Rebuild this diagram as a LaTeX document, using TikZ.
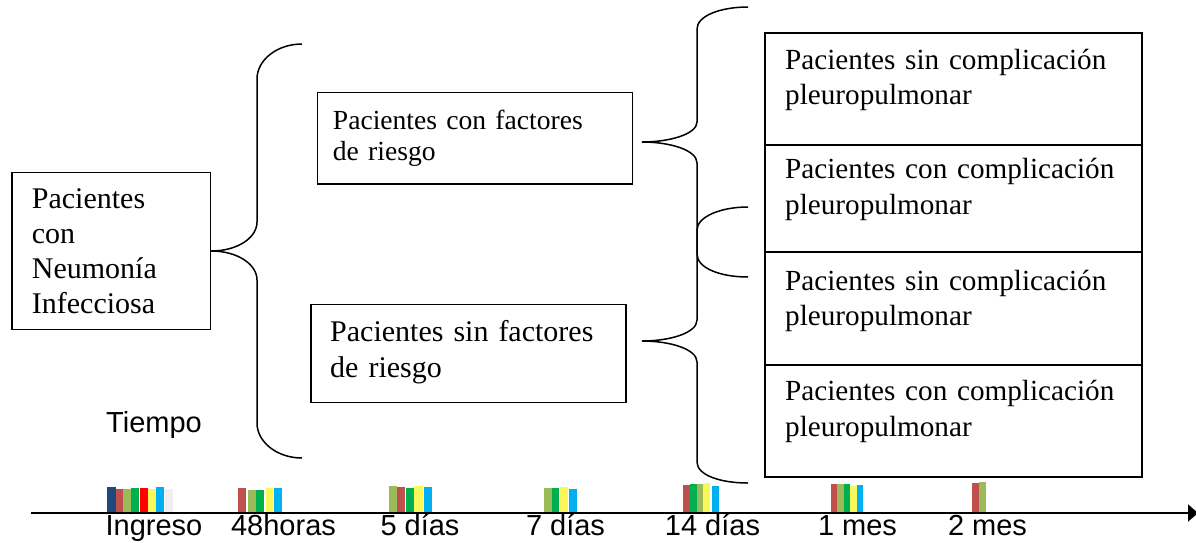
\documentclass[tikz,border=0pt]{standalone}
\usepackage{fontspec}
\setmainfont{Liberation Serif}
\newfontfamily\arialfont{Liberation Sans}
\usetikzlibrary{arrows.meta}
\definecolor{cdb}{HTML}{1F497D}
\definecolor{crb}{HTML}{C0504D}
\definecolor{col}{HTML}{9BBB59}
\definecolor{cgr}{HTML}{00B050}
\definecolor{crd}{HTML}{FF0000}
\definecolor{cye}{HTML}{F8F85C}
\definecolor{ccy}{HTML}{00B0F0}
\definecolor{clg}{HTML}{EFEFEF}
\newcommand\cbar[4]{\fill[#1] (#2,#4) rectangle (#3,514);}
\begin{document}
\begin{tikzpicture}[x=1pt,y=-1pt,
  box/.style={draw=black, line width=1.5pt, rectangle, inner sep=0pt},
  txt/.style={anchor=base west, inner sep=0pt, align=left},
  brace/.style={draw=black, line width=1.5pt},
  axis/.style={draw=black, line width=2pt, -{Triangle[length=10pt,width=17pt]}},
  lbl/.style={anchor=base, inner sep=0pt, font=\arialfont\fontsize{29}{34}\selectfont}]
\useasboundingbox (0,0) rectangle (1196,542);
% boxes
\node[box, minimum width=198.5pt, minimum height=157pt] (L) at (111.25,251) {};
\node[box, minimum width=315pt, minimum height=91.5pt] (U) at (475,138.25) {};
\node[box, minimum width=315pt, minimum height=98pt] (D) at (468.5,353.5) {};
\node[box, minimum width=377pt, minimum height=112pt] (R1) at (953.5,89) {};
\node[box, minimum width=377pt, minimum height=107pt] (R2) at (953.5,198.5) {};
\node[box, minimum width=377pt, minimum height=113pt] (R3) at (953.5,308.5) {};
\node[box, minimum width=377pt, minimum height=112pt] (R4) at (953.5,421) {};
% texts
\node[txt, text width=170pt, font=\fontsize{30}{35}\selectfont] (Lt) at (31.7,208.5) {Pacientes\\con\\Neumonía\\Infecciosa};
\node[txt, text width=290pt, font=\fontsize{27.6}{31}\selectfont] (Ut) at (332.7,129) {Pacientes con factores\\de riesgo};
\node[txt, text width=290pt, font=\fontsize{30}{35.3}\selectfont] (Dt) at (330,341.7) {Pacientes sin factores\\de riesgo};
\node[txt, text width=350pt, font=\fontsize{29.2}{35}\selectfont] (R1t) at (785,69.3) {Pacientes sin complicación\\pleuropulmonar};
\node[txt, text width=350pt, font=\fontsize{29.2}{36.3}\selectfont] (R2t) at (785,178.3) {Pacientes con complicación\\pleuropulmonar};
\node[txt, text width=350pt, font=\fontsize{29.2}{35}\selectfont] (R3t) at (785,290) {Pacientes sin complicación\\pleuropulmonar};
\node[txt, text width=350pt, font=\fontsize{29.2}{36.3}\selectfont] (R4t) at (785,400) {Pacientes con complicación\\pleuropulmonar};
\node[txt, font=\arialfont\fontsize{29}{34}\selectfont] (tiempo) at (106,432.7) {Tiempo};
% brace 1
\coordinate (b1t) at (302,44);
\coordinate (b1b) at (302,458);
\draw[brace] (b1t) .. controls (277,44) and (257,60) .. (257,79) -- (257,222)
  .. controls (257,238) and (237,251) .. (L.east)
  .. controls (237,251) and (257,264) .. (257,280) -- (257,423)
  .. controls (257,442) and (277,458) .. (b1b);
% brace 2
\coordinate (b2t) at (748,7);
\coordinate (b2b) at (748,483);
\coordinate (tipU) at (642,142);
\coordinate (tipD) at (642,341);
\draw[brace] (b2t) .. controls (720,7) and (697,16) .. (697,29) -- (697,122)
  .. controls (697,134) and (670,142) .. (tipU)
  .. controls (670,142) and (697,150) .. (697,163) -- (697,320)
  .. controls (697,333) and (670,341) .. (tipD)
  .. controls (670,341) and (697,349) .. (697,362) -- (697,462)
  .. controls (697,475) and (720,483) .. (b2b);
% small brace
\coordinate (b3t) at (748,207);
\coordinate (b3b) at (748,277);
\draw[brace] (b3t) .. controls (720,207) and (697,217) .. (697,230) -- (697,254)
  .. controls (697,268) and (720,277) .. (b3b);
% bars
\cbar{cdb}{107.3}{115.7}{487}
\cbar{crb}{115.7}{123.3}{489}
\cbar{col}{123.3}{131}{489}
\cbar{cgr}{131}{139.3}{488}
\cbar{crd}{140}{148.3}{488}
\cbar{cye}{148.3}{156}{489}
\cbar{ccy}{156}{164}{487}
\cbar{clg}{165}{173}{489}
%
\cbar{crb}{238.3}{246}{488}
\cbar{col}{248.3}{256}{490}
\cbar{cgr}{256}{264}{490}
\cbar{cye}{265.7}{273.3}{488}
\cbar{ccy}{274}{282}{488}
%
\cbar{col}{389.3}{397.3}{486}
\cbar{crb}{397.3}{405.3}{487}
\cbar{cgr}{406}{414}{488}
\cbar{cye}{414.3}{423.3}{486}
\cbar{ccy}{424}{432}{487}
%
\cbar{col}{544}{551.7}{488}
\cbar{cgr}{551.7}{559.3}{487.7}
\cbar{cye}{560}{568.3}{487.3}
\cbar{ccy}{569}{576.7}{489}
%
\cbar{crb}{683.3}{690}{485}
\cbar{cgr}{690}{697.3}{484.3}
\cbar{col}{697.3}{703.3}{484.3}
\cbar{cye}{703.3}{710}{482.7}
\cbar{ccy}{712.3}{719}{485.7}
%
\cbar{crb}{830.7}{837.3}{484.3}
\cbar{col}{837.3}{844}{484.3}
\cbar{cgr}{844}{850}{484.3}
\cbar{cye}{850}{856.7}{485.7}
\cbar{ccy}{856.7}{863.3}{485}
%
\cbar{crb}{972.3}{979}{482.7}
\cbar{col}{979}{985.7}{481.7}
% axis
\coordinate (a0) at (31,513);
\coordinate (a1) at (1198,513);
\draw[axis] (a0) -- (a1);
\node[lbl] (l1) at (154,535) {Ingreso};
\node[lbl] (l2) at (283.5,535) {48horas};
\node[lbl] (l3) at (420,535) {5 días};
\node[lbl] (l4) at (565.5,535) {7 días};
\node[lbl] (l5) at (712.5,535) {14 días};
\node[lbl] (l6) at (857.5,535) {1 mes};
\node[lbl] (l7) at (987.5,535) {2 mes};
\end{tikzpicture}
\end{document}
